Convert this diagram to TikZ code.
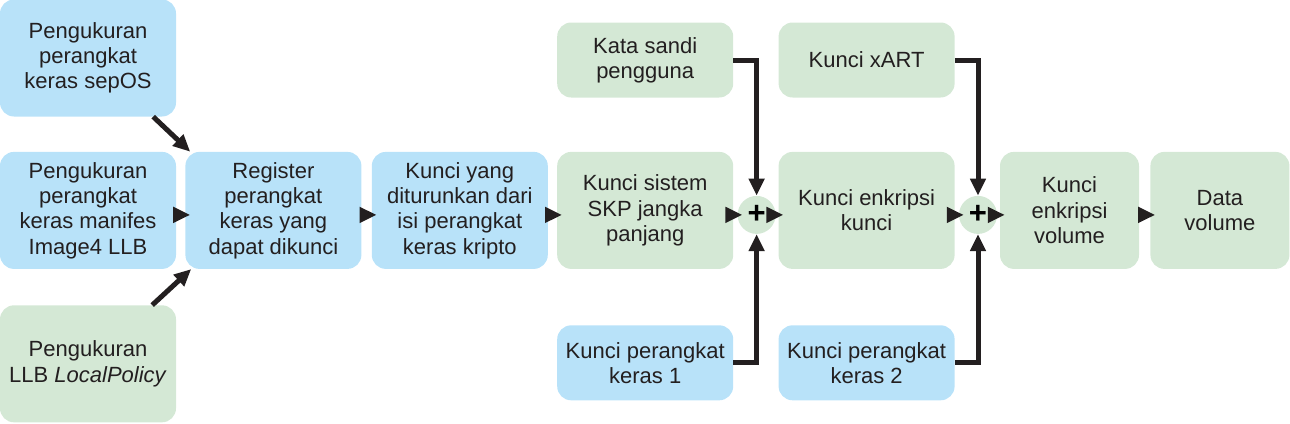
\documentclass[tikz,border=0pt]{standalone}
\usepackage{fontspec}
\setmainfont{Liberation Sans}
\usepackage{tikz}
\usetikzlibrary{arrows.meta, positioning, calc}
\definecolor{hwblue}{RGB}{184,226,249}
\definecolor{keygreen}{RGB}{212,232,213}
\definecolor{ink}{RGB}{35,31,32}

\begin{document}
\begin{tikzpicture}[
    x=1pt, y=1pt,
    block/.style={rectangle, rounded corners=14pt, minimum width=176pt, minimum height=117pt, inner sep=0pt, align=center, text=ink, font=\fontsize{22}{25.3}\selectfont},
    hwblock/.style={block, fill=hwblue},
    keyblock/.style={block, fill=keygreen},
    small/.style={minimum height=75pt},
    narrow/.style={minimum width=139pt},
    plus/.style={circle, fill=keygreen, minimum size=38pt, inner sep=0pt, text=black, font=\fontsize{31}{31}\selectfont\bfseries},
    arrow/.style={-{Triangle[length=17pt, width=15pt]}, line width=5pt, draw=ink},
    flow/.style={arrow, shorten >=-5pt}
]
\useasboundingbox (0,0) rectangle (1290,-423);

% Nodes
\node[hwblock] (sepOS) at (88,-58) {Pengukuran\\perangkat\\keras sepOS};
\node[hwblock, below=35pt of sepOS] (manifes) {Pengukuran\\perangkat\\keras manifes\\Image4 LLB};
\node[keyblock, below=36pt of manifes] (llb) {Pengukuran\\LLB \textit{LocalPolicy}};
\node[hwblock, right=9pt of manifes] (register) {Register\\perangkat\\keras yang\\dapat dikunci};
\node[hwblock, right=10pt of register] (kdf) {Kunci yang\\diturunkan dari\\isi perangkat\\keras kripto};
\node[keyblock, right=9pt of kdf] (skp) {Kunci sistem\\SKP jangka\\panjang};
\node[keyblock, small, above=54pt of skp] (sandi) {Kata sandi\\pengguna};
\node[hwblock, small, below=56pt of skp] (hw1) {Kunci perangkat\\keras 1};
\node[plus, right=4pt of skp, yshift=-4.5pt] (plus1) {+};
\node[keyblock, right=45pt of skp] (enc) {Kunci enkripsi\\kunci};
\node[keyblock, small, above=54pt of enc] (xart) {Kunci xART};
\node[hwblock, small, below=56pt of enc] (hw2) {Kunci perangkat\\keras 2};
\node[plus, right=4pt of enc, yshift=-4.5pt] (plus2) {+};
\node[keyblock, narrow, right=45pt of enc] (vol) {Kunci\\enkripsi\\volume};
\node[keyblock, narrow, right=11pt of vol] (data) {Data\\volume};

% Arrows
\draw[arrow] ([xshift=-23pt]sepOS.south east) -- ([xshift=5pt]register.north west);
\draw[arrow] ([xshift=-24pt]llb.north east) -- ([xshift=6pt]register.south west);
\draw[flow] ([yshift=-4.5pt]manifes.east) -- ([yshift=-4.5pt]register.west);
\draw[flow] ([yshift=-4.5pt]register.east) -- ([yshift=-4.5pt]kdf.west);
\draw[flow] ([yshift=-4.5pt]kdf.east) -- ([yshift=-4.5pt]skp.west);
\draw[flow] (skp.east |- plus1) -- (plus1.west);
\draw[flow] (plus1.east) -- (enc.west |- plus1);
\draw[arrow] (sandi.east) -| (plus1.north);
\draw[arrow] (hw1.east) -| (plus1.south);
\draw[flow] (enc.east |- plus2) -- (plus2.west);
\draw[flow] (plus2.east) -- (vol.west |- plus2);
\draw[arrow] (xart.east) -| (plus2.north);
\draw[arrow] (hw2.east) -| (plus2.south);
\draw[flow] ([yshift=-4.5pt]vol.east) -- ([yshift=-4.5pt]data.west);

\end{tikzpicture}
\end{document}
